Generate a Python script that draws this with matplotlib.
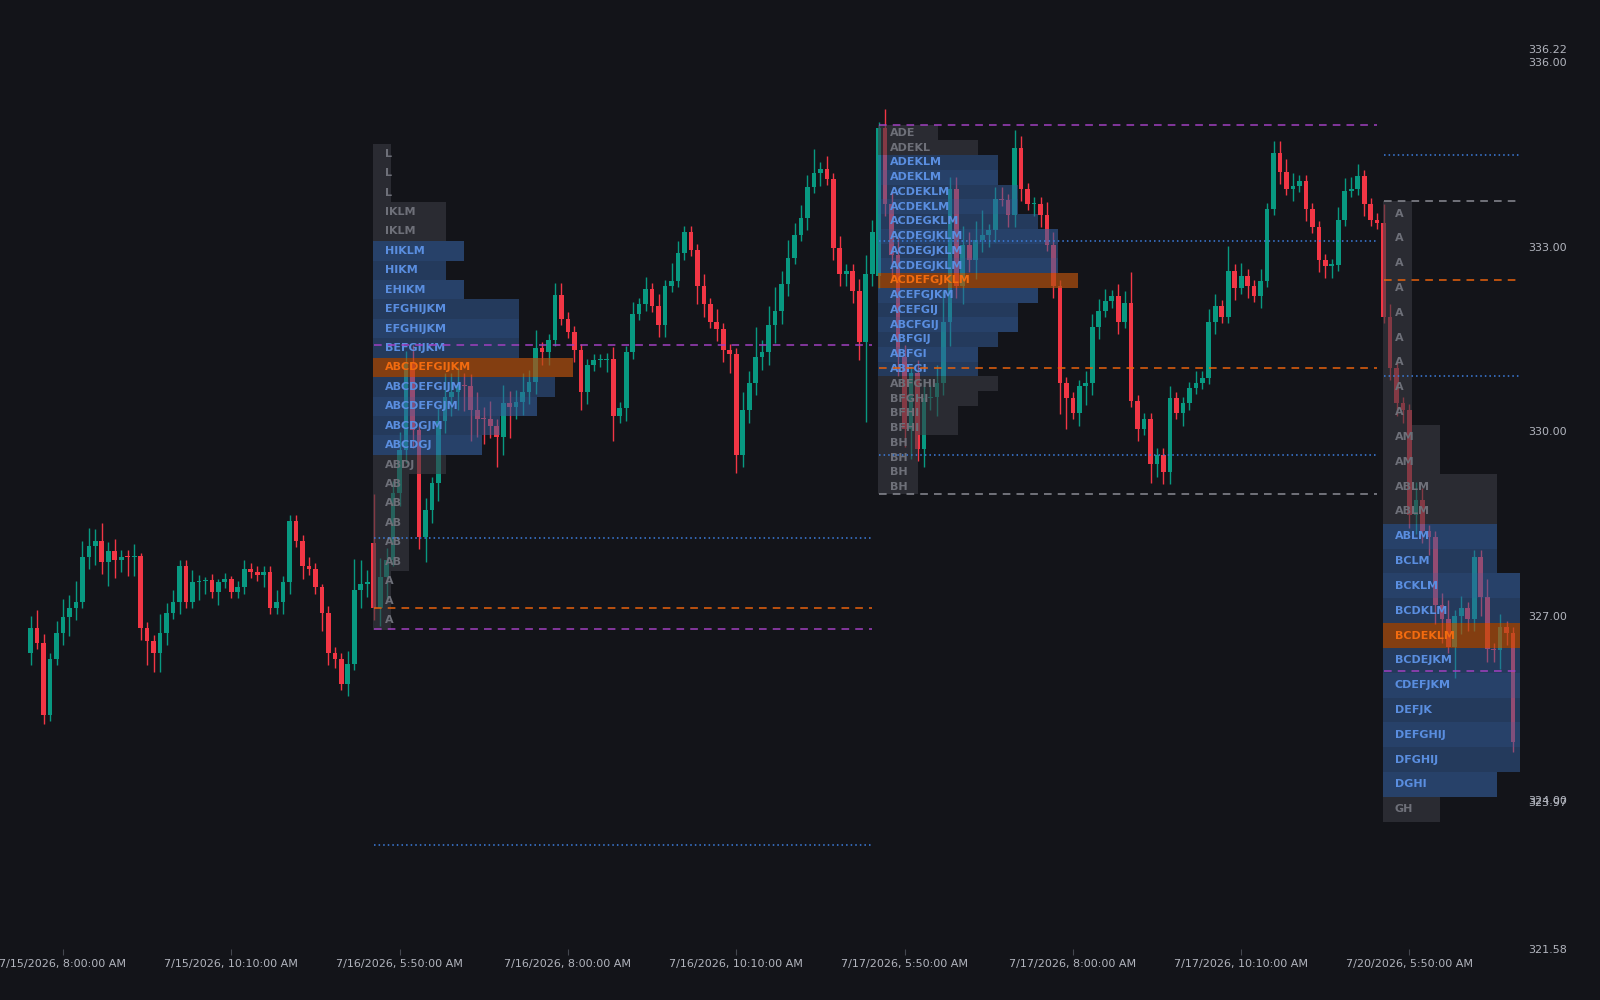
import matplotlib
matplotlib.use("Agg")
import matplotlib.pyplot as plt
from matplotlib.patches import Rectangle

# ---------------- data ----------------
sess_open = [326.39, 328.18, 332.53, 333.39]
close_a = [326.80,326.55,325.39,326.30,326.72,326.97,327.13,327.22,327.96,328.13,328.21,327.88,328.05,327.91,
           327.96,327.95,327.97,326.80,326.59,326.39,326.72,327.05,327.22,327.80,327.22,327.55,327.56,327.58,
           327.38,327.55,327.60,327.38,327.46,327.76,327.71,327.66,327.71,327.13,327.22,327.55,328.54,328.21,
           327.80,327.76,327.46,327.05,326.39,326.30,325.89,326.22,327.42,327.51,327.55]
close_b = [327.13,327.63,327.90,328.99,329.69,331.10,330.02,328.28,328.71,329.16,330.17,330.55,330.64,330.75,
           330.73,330.34,330.20,330.19,330.09,329.91,330.45,330.39,330.47,330.64,330.80,331.35,331.28,331.48,
           332.21,331.83,331.61,331.32,330.64,331.07,331.15,331.16,331.17,330.24,330.37,331.28,331.90,332.06,
           332.31,332.03,331.73,332.36,332.44,332.89,333.23,332.94,332.36,332.06,331.78,331.66,331.32,331.25,
           329.62,330.34,330.78,331.20,331.28,331.73,331.95,332.40,332.81,333.19,333.47,333.97,334.19,334.27,
           334.10,332.98,332.56,332.61,332.28,331.45,332.56,333.23]
close_c = [334.93,333.69,332.86,331.20,330.04,330.95,329.71,330.54,330.55,330.78,331.78,333.94,332.36,333.03,
           332.78,333.11,333.19,333.27,333.77,333.76,333.52,334.60,333.94,333.69,333.70,333.52,333.03,332.36,
           330.78,330.54,330.29,330.73,330.78,331.70,331.95,332.11,332.20,331.78,332.08,330.49,330.04,330.20,
           329.46,329.62,329.34,330.54,330.29,330.45,330.70,330.78,330.87,331.78,332.03,331.86,332.61,332.33,
           332.53,332.36,332.20,332.44,333.61,334.52,334.22,333.94,333.99,334.06,333.61,333.32,332.78,332.69,
           332.70,333.44,333.91,333.94,334.15,333.69,333.44,333.39]
close_d = [331.86,331.03,330.45,330.34,328.63,328.88,328.38,328.28,327.17,326.95,326.49,327.00,327.12,326.95,
           327.96,327.30,326.45,326.44,326.82,326.72,324.94]
wick_up_a = [0.2,0.3,0.15,0.1,0.2,0.3,0.2,0.35,0.25,0.3,0.2,0.3,0.15,0.2,0.1,0.1,0.2,0.05,0.1,0.1,0.3,0.15,0.2,
             0.1,0.1,0.2,0.1,0.05,0.1,0.05,0.1,0.05,0.1,0.15,0.1,0.1,0.1,0.1,0.2,0.1,0.1,0.1,0.1,0.15,0.1,0.05,
             0.1,0.1,0.1,0.2,0.5,0.4,0.2]
wick_dn_a = [0.2,0.1,0.15,0.1,0.1,0.2,0.3,0.2,0.1,0.2,0.3,0.2,0.4,0.3,0.2,0.3,0.3,0.2,0.4,0.3,0.3,0.2,0.1,0.2,
             0.1,0.1,0.3,0.2,0.1,0.2,0.1,0.1,0.1,0.1,0.1,0.1,0.2,0.1,0.1,0.2,0.2,0.1,0.2,0.1,0.1,0.3,0.2,0.15,
             0.1,0.2,0.1,0.3,0.2]
wick_up_b = [0.8,0.3,0.2,0.2,0.3,0.2,0.3,0.1,0.2,0.1,0.2,0.4,0.3,0.3,0.2,0.2,0.3,0.2,0.3,0.1,0.3,0.2,0.2,0.3,
             0.2,0.3,0.1,0.1,0.2,0.2,0.1,0.1,0.1,0.1,0.1,0.1,0.1,0.2,0.1,0.1,0.2,0.1,0.2,0.1,0.2,0.1,0.3,0.2,
             0.1,0.1,0.1,0.2,0.1,0.2,0.1,0.1,0.1,0.3,0.2,0.5,0.2,0.3,0.4,0.2,0.3,0.2,0.2,0.2,0.4,0.1,0.2,0.1,
             0.2,0.1,0.1,0.2,0.3,0.2]
wick_dn_b = [0.2,0.3,0.4,0.1,0.2,0.2,0.3,0.2,0.4,0.2,0.3,0.2,0.3,0.3,0.4,0.5,0.3,0.4,0.2,0.5,0.3,0.5,0.2,0.2,
             0.2,0.2,0.2,0.2,0.1,0.1,0.1,0.2,0.3,0.2,0.1,0.1,0.2,0.4,0.1,0.2,0.1,0.1,0.1,0.1,0.2,0.2,0.1,0.1,
             0.1,0.1,0.3,0.2,0.1,0.2,0.2,0.3,0.3,0.2,0.2,0.2,0.2,0.2,0.3,0.2,0.2,0.1,0.1,0.2,0.1,0.2,0.1,0.2,
             0.2,0.2,0.2,0.3,1.3,0.2]
wick_up_c = [0.1,0.3,0.2,0.3,0.2,0.1,0.2,0.3,0.2,0.3,0.5,0.2,0.2,0.3,0.2,0.3,0.4,0.1,0.2,0.2,0.1,0.3,0.2,0.1,
             0.1,0.1,0.2,0.2,0.1,0.1,0.1,0.1,0.2,0.2,0.2,0.2,0.1,0.2,0.2,0.5,0.1,0.1,0.1,0.1,0.1,0.2,0.1,0.1,
             0.1,0.2,0.1,0.2,0.2,0.1,0.4,0.1,0.2,0.1,0.1,0.2,0.1,0.2,0.2,0.2,0.2,0.1,0.1,0.1,0.1,0.1,0.1,0.2,
             0.2,0.2,0.2,0.1,0.1,0.1]
wick_dn_c = [0.2,0.2,0.4,0.3,0.3,0.5,0.2,0.3,0.2,0.3,0.2,0.4,0.2,0.3,0.2,0.3,0.2,0.2,0.2,0.1,0.2,0.2,0.2,0.1,
             0.2,0.2,0.1,0.2,0.5,0.5,0.1,0.2,0.3,0.2,0.2,0.1,0.1,0.2,0.1,0.1,0.2,0.1,0.3,0.2,0.2,0.2,0.1,0.2,
             0.1,0.1,0.1,0.1,0.2,0.1,0.1,0.2,0.1,0.2,0.1,0.2,0.1,0.1,0.2,0.1,0.2,0.1,0.2,0.1,0.2,0.2,0.2,0.1,
             0.1,0.1,0.1,0.2,0.1,0.1]
wick_up_d = [0.3,0.2,0.1,0.1,0.1,0.3,0.2,0.1,0.1,0.2,0.3,0.1,0.2,0.1,0.1,0.1,0.3,0.1,0.2,0.1,0.1]
wick_dn_d = [0.1,0.2,0.2,0.2,0.2,0.3,0.2,0.3,0.3,0.4,0.1,0.5,0.3,0.2,0.2,0.3,0.2,0.2,0.3,0.2,0.15]

tick_idx = [5, 31, 57, 83, 109, 135, 161, 187, 213]
tick_labels = ["7/15/2026, 8:00:00 AM", "7/15/2026, 10:10:00 AM", "7/16/2026, 5:50:00 AM",
               "7/16/2026, 8:00:00 AM", "7/16/2026, 10:10:00 AM", "7/17/2026, 5:50:00 AM",
               "7/17/2026, 8:00:00 AM", "7/17/2026, 10:10:00 AM", "7/20/2026, 5:50:00 AM"]
ytick_vals = [336.22, 336.00, 333.00, 330.00, 327.00, 324.00, 323.97, 321.58]

prof_b_rows = ["L","L","L","IKLM","IKLM","HIKLM","HIKM","EHIKM","EFGHIJKM","EFGHIJKM","BEFGIJKM",
               "ABCDEFGIJKM","ABCDEFGIJM","ABCDEFGJM","ABCDGJM","ABCDGJ","ABDJ","AB","AB","AB","AB","AB","A","A","A"]
prof_c_rows = ["ADE","ADEKL","ADEKLM","ADEKLM","ACDEKLM","ACDEKLM","ACDEGKLM","ACDEGJKLM","ACDEGJKLM",
               "ACDEGJKLM","ACDEFGJKLM","ACEFGJKM","ACEFGIJ","ABCFGIJ","ABFGIJ","ABFGI","ABFGI","ABFGHI",
               "BFGHI","BFHI","BFHI","BH","BH","BH","BH"]
prof_d_rows = ["A"]*9 + ["AM","AM","ABLM","ABLM","ABLM","BCLM","BCKLM","BCDKLM","BCDEKLM","BCDEJKM",
               "CDEFJKM","DEFJK","DEFGHIJ","DFGHIJ","DGHI","GH"]
profiles = [
    (53, 334.67, 326.77, prof_b_rows, 5, 15, 11),
    (131, 334.97, 328.97, prof_c_rows, 2, 16, 10),
    (209, 333.74, 323.65, prof_d_rows, 13, 23, 17),
]
levels = [
    (53, 130, 331.40, "va"), (53, 130, 326.78, "va"), (53, 130, 327.12, "poc"),
    (53, 130, 328.26, "hl"), (53, 130, 323.27, "hl"),
    (131, 208, 334.97, "va"), (131, 208, 328.97, "ext"), (131, 208, 331.03, "poc"),
    (131, 208, 333.09, "hl"), (131, 208, 329.62, "hl"),
    (209, 231, 334.49, "hl"), (209, 231, 333.74, "ext"), (209, 231, 332.46, "poc"),
    (209, 231, 330.90, "hl"), (209, 231, 326.10, "va"),
]

# ---------------- plot ----------------
BG = "#131419"
UP, DN = "#089981", "#f23645"
fig = plt.figure(figsize=(16, 10), dpi=100, facecolor=BG)
ax = fig.add_axes([0, 0.051, 0.950, 0.949], facecolor=BG)

closes_all = [close_a, close_b, close_c, close_d]
wu_all = [wick_up_a, wick_up_b, wick_up_c, wick_up_d]
wd_all = [wick_dn_a, wick_dn_b, wick_dn_c, wick_dn_d]
idx = 0
for s, cl in enumerate(closes_all):
    o = sess_open[s]
    for i, c in enumerate(cl):
        col = UP if c >= o else DN
        hi = max(o, c) + wu_all[s][i]
        lo = min(o, c) - wd_all[s][i]
        ax.vlines(idx, lo, hi, color=col, lw=1, zorder=2)
        ax.add_patch(Rectangle((idx - 0.36, min(o, c)), 0.72, max(abs(c - o), 0.02),
                               facecolor=col, edgecolor="none", zorder=2))
        o = c
        idx += 1

for start, top, bot, rows, va0, va1, poc in profiles:
    n = len(rows)
    step = (top - bot) / n
    mx = max(len(r) for r in rows)
    for k, r in enumerate(rows):
        y0 = top - (k + 1) * step
        w = len(r) / mx * 30.9
        if k == poc:
            fc, tc, al = "#b3500f", "#f26b0f", 0.7
        elif va0 <= k <= va1:
            fc, tc, al = "#3560a0", "#5a8ee0", 0.6 if k % 2 else 0.5
        else:
            fc, tc, al = "#3a3c44", "#6e7079", 0.6
        ax.add_patch(Rectangle((start - 0.1, y0), w, step, facecolor=fc, alpha=al,
                               edgecolor="none", zorder=3))
        ax.text(start + 1.7, y0 + step / 2, r, color=tc, fontsize=8, fontweight="bold",
                va="center", ha="left", zorder=4, clip_on=True)

styles = {"va": ("#a040c0", (0, (5, 4))), "poc": ("#e8620c", (0, (5, 4))),
          "hl": ("#3d7fe0", (0, (1, 2))), "ext": ("#8a8c94", (0, (5, 4)))}
for a, b, p, kind in levels:
    col, ls = styles[kind]
    ax.plot([a, b], [p, p], color=col, ls=ls, lw=1.1, zorder=5)

ax.set_xlim(-4.73, 230.07)
ax.set_ylim(321.58, 337.01)
for sp in ax.spines.values():
    sp.set_visible(False)
ax.set_xticks(tick_idx)
ax.set_xticklabels(tick_labels)
ax.tick_params(axis="x", colors="#44474f", labelcolor="#b2b5be", labelsize=8, length=4, pad=3)
ax.yaxis.tick_right()
ax.set_yticks(ytick_vals)
ax.set_yticklabels([f"{v:.2f}" for v in ytick_vals])
ax.tick_params(axis="y", length=0, labelcolor="#b2b5be", labelsize=8, pad=6)
fig.savefig("out.png", dpi=100, facecolor=BG)
